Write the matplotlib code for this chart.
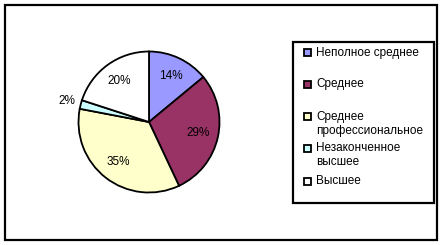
import numpy as np
import matplotlib
matplotlib.use("Agg")
import matplotlib.pyplot as plt
from matplotlib.patches import Rectangle

# data
categories = ["Неполное среднее", "Среднее", "Среднее\nпрофессиональное",
              "Незаконченное\nвысшее", "Высшее"]
shares = [14, 29, 35, 2, 20]
colors = ["#9999FF", "#993366", "#FFFFCC", "#CCFFFF", "#FFFFFF"]

plt.rcParams['font.family'] = ['Liberation Sans', 'DejaVu Sans']

W, H = 441, 245
fig = plt.figure(figsize=(W / 100, H / 100), dpi=100)
fig.patch.set_facecolor("white")


def fx(px):
    return px / W


def fy(py):
    return 1 - py / H


# outer frame
fig.patches.append(Rectangle((fx(5), fy(240)), fx(437) - fx(5), fy(5) - fy(240),
                             transform=fig.transFigure, fill=False,
                             edgecolor="black", linewidth=1.6, zorder=0))

# pie
cx, cy, r = 149, 122, 70.5
ax = fig.add_axes([fx(cx - r), fy(cy + r), 2 * r / W, 2 * r / H])
wedges, texts, autotexts = ax.pie(
    shares, colors=colors, startangle=90, counterclock=False,
    autopct="%d%%", pctdistance=0.72,
    wedgeprops=dict(edgecolor="black", linewidth=1.3),
    textprops=dict(fontsize=8.5, color="black"))
ax.set_xlim(-1, 1)
ax.set_ylim(-1, 1)
ax.set_aspect("auto")
ax.axis("off")

# small slice label outside
for w, t, v in zip(wedges, autotexts, shares):
    if v < 5:
        th = np.deg2rad((w.theta1 + w.theta2) / 2)
        t.set_position((1.2 * np.cos(th), 1.2 * np.sin(th)))

# legend
fig.patches.append(Rectangle((fx(293), fy(203)), fx(434) - fx(293), fy(42) - fy(203),
                             transform=fig.transFigure, fill=False,
                             edgecolor="black", linewidth=1.6, zorder=1))
rows = [53, 84, 117, 148, 181]
sq = 7
for lab, c, yy in zip(categories, colors, rows):
    fig.patches.append(Rectangle((fx(307 - sq / 2), fy(yy + sq / 2)), sq / W, sq / H,
                                 transform=fig.transFigure, facecolor=c,
                                 edgecolor="black", linewidth=1.3))
    lines = lab.split("\n")
    for k, line in enumerate(lines):
        fig.text(fx(316), fy(yy + 14 * k), line, fontsize=8.5,
                 ha="left", va="center")

fig.savefig("out.png", dpi=100)
